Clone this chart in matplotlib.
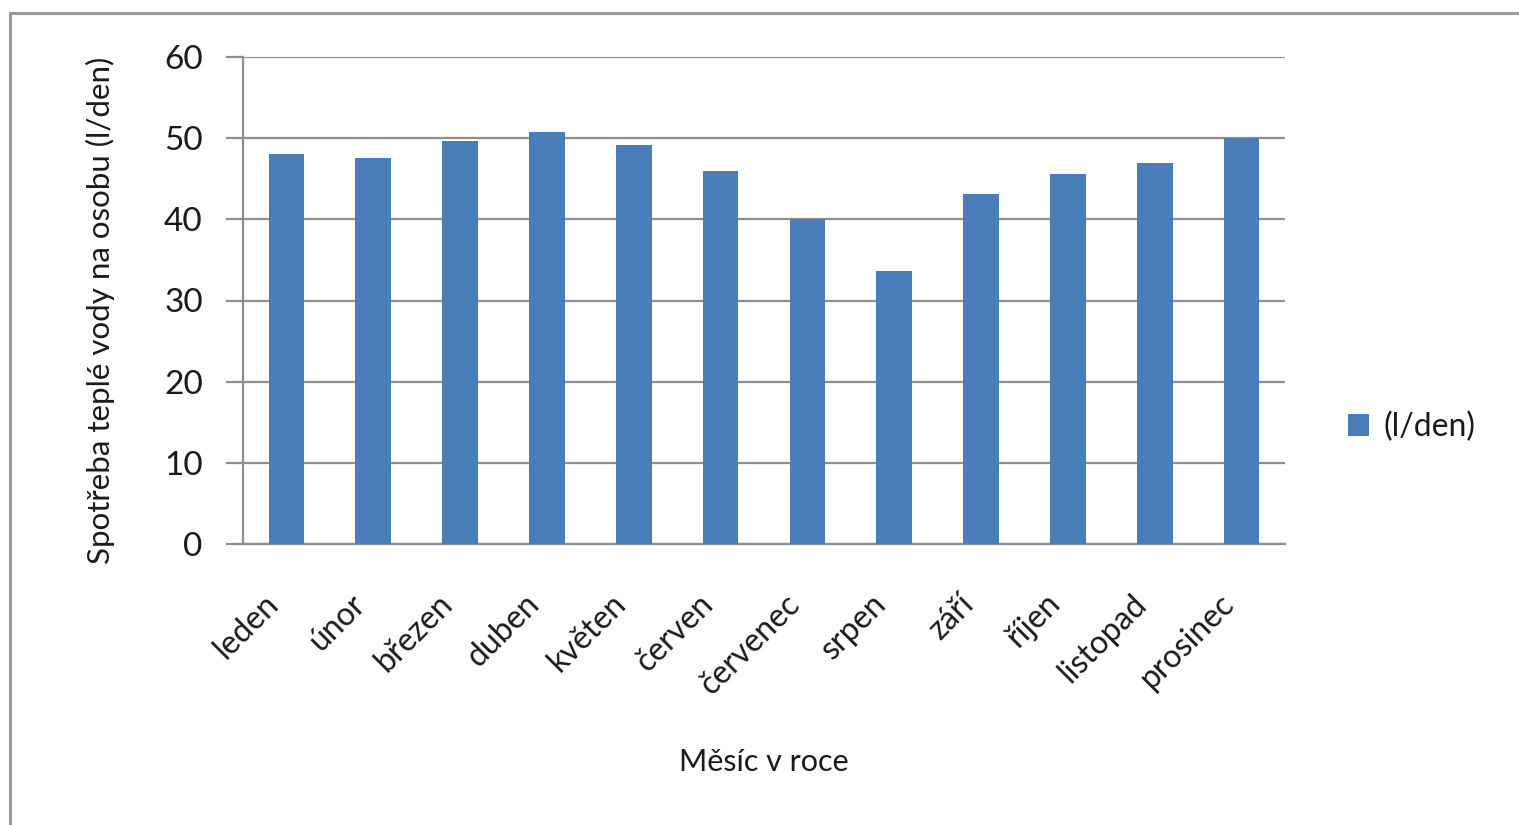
import matplotlib.pyplot as plt
from matplotlib.patches import Rectangle
from matplotlib.transforms import ScaledTranslation

plt.rcParams['font.family'] = ['Lato', 'DejaVu Sans']

# Průměrná spotřeba teplé vody podle měsíců
mesice = ['leden', 'únor', 'březen', 'duben', 'květen', 'červen',
          'červenec', 'srpen', 'září', 'říjen', 'listopad', 'prosinec']
spotreba = [48.0, 47.5, 49.6, 50.7, 49.1, 46.0,
            40.1, 33.6, 43.1, 45.6, 47.0, 50.0]
y_ticks = [0, 10, 20, 30, 40, 50, 60]

grid_col = '#8e8e8e'
text_col = '#1a1a1a'
bar_col = '#4a7ebb'

fig = plt.figure(figsize=(15.19, 8.25), dpi=100)
ax = fig.add_axes([243 / 1519, 1 - 544 / 825, 1042 / 1519, 487 / 825])

x = range(len(mesice))
ax.bar(x, spotreba, width=0.41, color=bar_col, label='(l/den)', zorder=3)

ax.set_xlim(-0.5, len(mesice) - 0.5)
ax.set_ylim(0, 60)
ax.set_yticks(y_ticks)
ax.yaxis.grid(True, color=grid_col, linewidth=1.6, zorder=1)
ax.tick_params(axis='y', length=12, width=1.6, color=grid_col, pad=17,
               labelsize=24, labelcolor=text_col)

ax.set_xticks(list(x))
ax.set_xticklabels(mesice, rotation=45, ha='right', rotation_mode='anchor',
                   fontsize=23, color=text_col)
ax.tick_params(axis='x', length=0, pad=32)
shift = ScaledTranslation(-23 / 100, 0, fig.dpi_scale_trans)
for lbl in ax.get_xticklabels():
    lbl.set_transform(lbl.get_transform() + shift)

for side in ['top', 'right']:
    ax.spines[side].set_visible(False)
ax.spines['left'].set_color(grid_col)
ax.spines['left'].set_linewidth(1.6)
ax.spines['bottom'].set_color(grid_col)
ax.spines['bottom'].set_linewidth(1.6)

ax.set_ylabel('Spotřeba teplé vody na osobu (l/den)', fontsize=22.5,
              color=text_col)
ax.yaxis.set_label_coords(-0.123, 0.48)
ax.set_xlabel('Měsíc v roce', fontsize=22, color=text_col, labelpad=35)

ax.legend(loc='center left', bbox_to_anchor=(1.033, 0.24), frameon=False,
          fontsize=23, handlelength=0.65, handleheight=0.65,
          handletextpad=0.45, labelcolor=text_col)

# šedý rámeček grafu
fig.patches.append(Rectangle((10 / 1519, -0.1), 1.2, 0.1 + 1 - 13 / 825,
                             transform=fig.transFigure, fill=False,
                             edgecolor='#9a9a9a', linewidth=2.2))

fig.savefig('out.png', dpi=100)
